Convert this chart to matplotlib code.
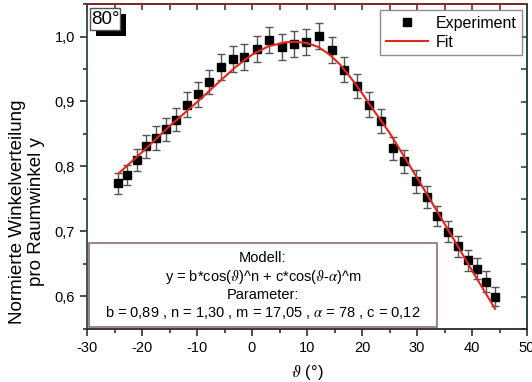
import matplotlib
matplotlib.use("Agg")
import matplotlib.pyplot as plt
from matplotlib.patches import Rectangle
from matplotlib.ticker import MultipleLocator, FuncFormatter

plt.rcParams['font.family'] = ['Liberation Sans', 'DejaVu Sans']
plt.rcParams['mathtext.fontset'] = 'stix'
plt.rcParams['axes.unicode_minus'] = False

# --- data ---
theta = [-24.3, -22.7, -21.0, -19.3, -17.5, -15.7, -13.8, -11.9, -9.9, -7.8,
         -5.7, -3.5, -1.4, 0.85, 3.1, 5.4, 7.7, 9.9, 12.2, 14.5,
         16.8, 19.0, 21.3, 23.5, 25.6, 27.7, 29.8, 31.8, 33.7, 35.6,
         37.4, 39.2, 40.9, 42.5, 44.2]
exp_y = [0.774, 0.787, 0.810, 0.831, 0.844, 0.857, 0.872, 0.895, 0.911, 0.930,
         0.953, 0.966, 0.968, 0.981, 0.994, 0.984, 0.989, 0.991, 1.001, 0.980,
         0.949, 0.924, 0.895, 0.870, 0.828, 0.808, 0.777, 0.753, 0.724, 0.700,
         0.677, 0.656, 0.643, 0.623, 0.600]
exp_err = [0.016, 0.016, 0.017, 0.018, 0.018, 0.018, 0.018, 0.019, 0.019, 0.019,
           0.020, 0.020, 0.020, 0.020, 0.020, 0.020, 0.020, 0.020, 0.020, 0.020,
           0.019, 0.019, 0.019, 0.018, 0.018, 0.018, 0.017, 0.017, 0.016, 0.016,
           0.016, 0.016, 0.016, 0.016, 0.015]

fit_x = [-24.3, -20, -15, -10, -6, -3, 0, 3, 6, 8, 10, 12, 14, 16, 18, 20,
         22, 25, 30, 35, 40, 44.2]
fit_y = [0.789, 0.822, 0.862, 0.899, 0.930, 0.953, 0.972, 0.985, 0.991, 0.992,
         0.990, 0.984, 0.973, 0.957, 0.936, 0.913, 0.888, 0.852, 0.783, 0.712,
         0.640, 0.581]

W, H = 532, 382
fig = plt.figure(figsize=(W / 100, H / 100), dpi=100)
ax = fig.add_axes([87 / W, 1 - 329 / H, 440 / W, 325 / H])

# experiment points with error bars
ax.errorbar(theta, exp_y, yerr=exp_err, fmt='none', ecolor='#555555',
            elinewidth=1, capsize=3, capthick=1, zorder=2)
ax.plot(theta, exp_y, 's', color='black', markersize=5.5, zorder=3,
        label='Experiment')
ax.plot(fit_x, fit_y, '-', color='#e3261c', linewidth=1.5, zorder=4, label='Fit')

ax.set_xlim(-30, 50)
ax.set_ylim(0.55, 1.05)
ax.xaxis.set_major_locator(MultipleLocator(10))
ax.xaxis.set_minor_locator(MultipleLocator(5))
ax.yaxis.set_major_locator(MultipleLocator(0.1))
ax.yaxis.set_minor_locator(MultipleLocator(0.05))
ax.yaxis.set_major_formatter(FuncFormatter(lambda v, p: f"{v:.1f}".replace('.', ',')))
ax.tick_params(which='major', direction='out', length=5, width=1.2,
               labelsize=10.5, color='#3a2a2a')
ax.tick_params(which='minor', direction='out', length=3, width=1.2, color='#3a2a2a')

# inward ticks on top and right
top = ax.secondary_xaxis('top')
top.xaxis.set_major_locator(MultipleLocator(5))
top.tick_params(direction='in', length=4, width=1.2, labeltop=False, color='#7a2a2a')
right = ax.secondary_yaxis('right')
right.yaxis.set_major_locator(MultipleLocator(0.05))
right.tick_params(direction='in', length=4, width=1.2, labelright=False, color='#2b4a44')

for side, col in [('left', '#2b4a44'), ('right', '#2b4a44'),
                  ('top', '#7a2a2a'), ('bottom', '#2a2a2a')]:
    ax.spines[side].set_color(col)
    ax.spines[side].set_linewidth(1.3)
top.spines['top'].set_color('#7a2a2a')
top.spines['top'].set_linewidth(1.3)
right.spines['right'].set_color('#2b4a44')
right.spines['right'].set_linewidth(1.3)

# legend
leg = ax.legend(loc='upper right', bbox_to_anchor=(0.9886, 0.9815), fontsize=11.5,
                frameon=True, fancybox=False, edgecolor='#7a6a6a',
                handlelength=2.6, handletextpad=0.5, borderpad=0.35,
                labelspacing=0.25, borderaxespad=0)
leg.get_frame().set_linewidth(1.0)

# "80°" label with drop shadow
ax.add_patch(Rectangle((0.020, 0.902), 0.068, 0.068, transform=ax.transAxes,
                       facecolor='black', edgecolor='none', zorder=5))
ax.add_patch(Rectangle((0.007, 0.92), 0.068, 0.068, transform=ax.transAxes,
                       facecolor='white', edgecolor='#555555', linewidth=1, zorder=6))
ax.text(0.041, 0.953, '80°', transform=ax.transAxes, fontsize=13.5,
        ha='center', va='center', zorder=7)

# model box
ax.add_patch(Rectangle((0.0045, 0.006), 0.79, 0.259, transform=ax.transAxes,
                       facecolor='white', edgecolor='#8a6f6f', linewidth=1.2, zorder=5))
cx = 0.40
ax.text(cx, 0.218, 'Modell:', transform=ax.transAxes, fontsize=10.5,
        ha='center', va='center', zorder=6)
ax.text(cx, 0.160, r'y = b*cos($\vartheta$)^n + c*cos($\vartheta$-$\alpha$)^m',
        transform=ax.transAxes, fontsize=10.5, ha='center', va='center', zorder=6)
ax.text(cx, 0.104, 'Parameter:', transform=ax.transAxes, fontsize=10.5,
        ha='center', va='center', zorder=6)
ax.text(cx, 0.052, r'b = 0,89 , n = 1,30 , m = 17,05 , $\alpha$ = 78 , c = 0,12',
        transform=ax.transAxes, fontsize=10.5, ha='center', va='center', zorder=6)

# axis labels
fig.text(27 / W, 1 - 212 / H, 'Normierte Winkelverteilung\npro Raumwinkel y',
         rotation=90, ha='center', va='center', fontsize=13.5,
         multialignment='center', linespacing=1.1)
fig.text(307 / W, 1 - 372 / H, r'$\vartheta$ (°)', ha='center', va='center',
         fontsize=12)

fig.savefig('out.png', dpi=100)
